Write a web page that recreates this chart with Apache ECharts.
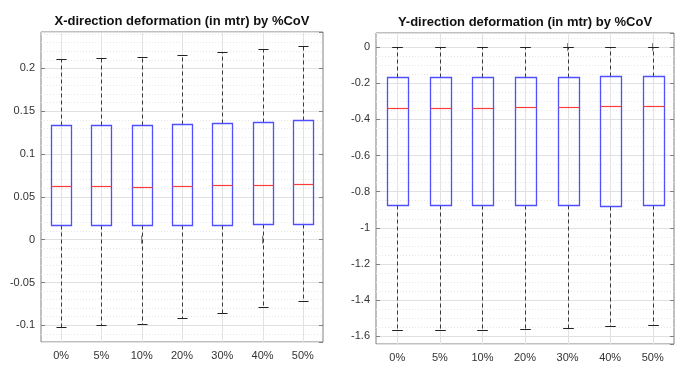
<!DOCTYPE html>
<html>
<head>
<meta charset="utf-8">
<script src="https://cdn.jsdelivr.net/npm/echarts@6/dist/echarts.min.js"></script>
<style>
  html, body { margin: 0; padding: 0; background: #fff; }
  #main { width: 691px; height: 376px; }
</style>
</head>
<body>
<div id="main"></div>
<script>
// categories (%CoV)
const categories = ['0%', '5%', '10%', '20%', '30%', '40%', '50%']

// X-direction deformation box stats
const xMin = [-0.102, -0.1, -0.098, -0.092, -0.086, -0.079, -0.072]
const xQ1 = [0.0173, 0.0173, 0.0173, 0.0173, 0.0173, 0.018, 0.0185]
const xMed = [0.063, 0.0625, 0.062, 0.063, 0.064, 0.064, 0.065]
const xQ3 = [0.1336, 0.1336, 0.134, 0.1348, 0.136, 0.1371, 0.1398]
const xMax = [0.2105, 0.2117, 0.2129, 0.216, 0.2188, 0.2223, 0.2262]

// Y-direction deformation box stats
const yMin = [-1.5635, -1.5635, -1.5635, -1.558, -1.553, -1.546, -1.536]
const yQ1 = [-0.875, -0.875, -0.873, -0.873, -0.875, -0.877, -0.873]
const yMed = [-0.336, -0.336, -0.336, -0.332, -0.33, -0.327, -0.325]
const yQ3 = [-0.164, -0.164, -0.164, -0.164, -0.164, -0.1625, -0.159]
const yMax = [0, 0, 0, 0, 0, 0, 0]

// axis limits and tick steps
const xLimits = [-0.1195, 0.2425]
const xStep = 0.05
const yLimits = [-1.643, 0.078]
const yStep = 0.2

const FONT = 'Liberation Sans, Arial, sans-serif'

const rows = (mn, q1, md, q3, mx) =>
  categories.map((c, i) => [i, mn[i], q1[i], md[i], q3[i], mx[i]])

const crisp = (v) => Math.round(v) + 0.5

const renderBox = (params, api) => {
  const i = api.value(0)
  const band = api.size([1, 0])[0]
  const half = band * 0.25
  const cx = crisp(api.coord([i, 0])[0])
  const y = (k) => crisp(api.coord([i, api.value(k)])[1])
  const cs = params.coordSys
  const yMn = y(1), yQ1 = y(2), yMd = y(3), yQ3 = y(4), yMx = y(5)
  const bl = Math.round(cx - half) + 0.5
  const br = bl + Math.round(2 * half)
  const whisker = () => ({ stroke: '#3a3a3a', lineWidth: 1, lineDash: [4, 3] })
  const cap = () => ({ stroke: '#222', lineWidth: 1 })
  const blue = () => ({ stroke: '#4f4fff', lineWidth: 1.3 })
  return {
    type: 'group',
    children: [
      {
        type: 'line',
        shape: { x1: cx, y1: cs.y, x2: cx, y2: cs.y + cs.height },
        style: { stroke: '#e2e2e2', lineWidth: 1 },
      },
      { type: 'line', shape: { x1: cx, y1: yQ3, x2: cx, y2: yMx }, style: whisker() },
      { type: 'line', shape: { x1: cx, y1: yQ1, x2: cx, y2: yMn }, style: whisker() },
      { type: 'line', shape: { x1: cx - half / 2, y1: yMx, x2: cx + half / 2, y2: yMx }, style: cap() },
      { type: 'line', shape: { x1: cx - half / 2, y1: yMn, x2: cx + half / 2, y2: yMn }, style: cap() },
      {
        type: 'rect',
        shape: { x: bl, y: yQ3, width: br - bl, height: yQ1 - yQ3 },
        style: Object.assign({ fill: 'none' }, blue()),
      },
      {
        type: 'line',
        shape: { x1: bl, y1: yMd, x2: br, y2: yMd },
        style: { stroke: '#ff3c3c', lineWidth: 1.2 },
      },
    ],
  }
}

const catAxis = (gridIndex, position) => ({
  type: 'category',
  gridIndex,
  position,
  data: categories,
  boundaryGap: true,
  axisLine: { show: false },
  axisTick: { show: true, inside: true, alignWithLabel: true, length: 4, lineStyle: { color: '#808080' } },
  axisLabel: {
    show: position === 'bottom',
    color: '#333',
    fontSize: 11,
    fontFamily: FONT,
    margin: 8,
  },
  splitLine: { show: false },
})

const valAxis = (gridIndex, position, limits, step, minorSplit) => ({
  type: 'value',
  gridIndex,
  position,
  min: limits[0],
  max: limits[1],
  minInterval: step,
  maxInterval: step,
  splitNumber: 8,
  axisLine: { show: false },
  axisTick: { show: true, inside: true, length: 4, lineStyle: { color: '#808080' } },
  axisLabel: {
    show: position === 'left',
    showMinLabel: false,
    showMaxLabel: false,
    color: '#333',
    fontSize: 11,
    fontFamily: FONT,
    margin: 6,
  },
  splitLine: {
    show: position === 'left',
    lineStyle: { color: '#e0e0e0', width: 1 },
  },
  minorTick: { show: false, splitNumber: minorSplit },
  minorSplitLine: {
    show: position === 'left',
    lineStyle: { color: '#e6e6e6', width: 1, type: [1, 2] },
  },
})

const chart = echarts.init(document.getElementById('main'), null, { renderer: 'canvas' })

chart.setOption({
  backgroundColor: '#fff',
  animation: false,
  title: [
    {
      text: 'X-direction deformation (in mtr) by %CoV',
      left: 182,
      top: 15,
      textAlign: 'center',
      padding: 0,
      textStyle: { fontSize: 13, fontWeight: 'bold', color: '#111', fontFamily: FONT },
    },
    {
      text: 'Y-direction deformation (in mtr) by %CoV',
      left: 525,
      top: 16,
      textAlign: 'center',
      padding: 0,
      textStyle: { fontSize: 13, fontWeight: 'bold', color: '#111', fontFamily: FONT },
    },
  ],
  grid: [
    { left: 41, top: 32, width: 282, height: 310, show: true, borderColor: '#808080', borderWidth: 1 },
    { left: 376, top: 33, width: 298, height: 311, show: true, borderColor: '#808080', borderWidth: 1 },
  ],
  xAxis: [
    catAxis(0, 'bottom'),
    catAxis(0, 'top'),
    catAxis(1, 'bottom'),
    catAxis(1, 'top'),
  ],
  yAxis: [
    valAxis(0, 'left', xLimits, xStep, 5),
    valAxis(0, 'right', xLimits, xStep, 5),
    valAxis(1, 'left', yLimits, yStep, 4),
    valAxis(1, 'right', yLimits, yStep, 4),
  ],
  series: [
    {
      name: 'X-direction',
      type: 'custom',
      xAxisIndex: 0,
      yAxisIndex: 0,
      renderItem: renderBox,
      encode: { x: 0, y: [1, 2, 3, 4, 5] },
      data: rows(xMin, xQ1, xMed, xQ3, xMax),
      silent: true,
    },
    {
      name: 'Y-direction',
      type: 'custom',
      xAxisIndex: 2,
      yAxisIndex: 2,
      renderItem: renderBox,
      encode: { x: 0, y: [1, 2, 3, 4, 5] },
      data: rows(yMin, yQ1, yMed, yQ3, yMax),
      silent: true,
    },
  ],
})
</script>
</body>
</html>
